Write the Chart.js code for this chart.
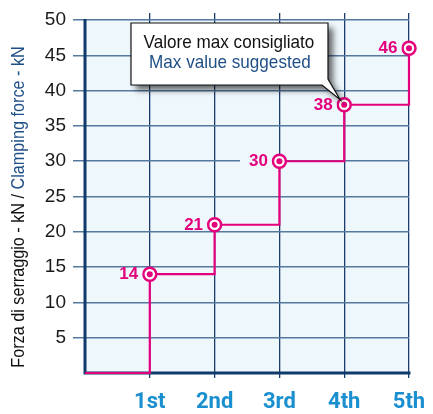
<!DOCTYPE html>
<html>
<head>
<meta charset="utf-8">
<script src="https://cdn.jsdelivr.net/npm/chart.js@4.4.1/dist/chart.umd.min.js"></script>
<style>
  html, body { margin: 0; padding: 0; background: #ffffff; }
  #wrap { width: 433px; height: 414px; }
</style>
</head>
<body>
<div id="wrap"><canvas id="forceChart" width="433" height="414"></canvas></div>
<script>
// Clamping force reached at each step
const positions = ['1st', '2nd', '3rd', '4th', '5th'];
const forceValues = [14, 21, 30, 38, 46];
const yTickValues = [5, 10, 15, 20, 25, 30, 35, 40, 45, 50];
const xTickValues = [1, 2, 3, 4, 5];

const PINK = '#e4007c';
const NAVY = '#0f3a6a';
const PLOT_BG = '#eef7fc';
const TEXT_BLUE = '#1f4f86';

// step line starts from the origin
const stepPoints = [{ x: 0, y: 0 }].concat(
    positions.map((p, i) => ({ x: i + 1, y: forceValues[i] }))
);
const dotPoints = positions.map((p, i) => ({ x: i + 1, y: forceValues[i] }));

const plotDecor = {
    id: 'plotDecor',
    beforeDraw(chart) {
        const { ctx, chartArea, scales } = chart;
        const top = scales.y.getPixelForValue(50);
        ctx.save();
        ctx.fillStyle = PLOT_BG;
        ctx.fillRect(chartArea.left, top, chartArea.right - chartArea.left, chartArea.bottom - top);
        ctx.restore();
    },
    beforeDatasetsDraw(chart) {
        const { ctx, chartArea, scales } = chart;
        const top = scales.y.getPixelForValue(50) - 1;
        ctx.save();
        ctx.strokeStyle = NAVY;
        ctx.lineWidth = 3;
        ctx.beginPath();
        ctx.moveTo(chartArea.left, top);
        ctx.lineTo(chartArea.left, chartArea.bottom + 1.5);
        ctx.moveTo(chartArea.left - 1.5, chartArea.bottom);
        ctx.lineTo(chartArea.right + 1.5, chartArea.bottom);
        ctx.stroke();
        ctx.restore();
    },
    afterDatasetsDraw(chart) {
        const { ctx, scales } = chart;
        const xs = scales.x, ys = scales.y;

        // value labels next to each point
        ctx.save();
        ctx.font = 'bold 17px "Liberation Sans Narrow", "Arial Narrow", Arial, sans-serif';
        ctx.textAlign = 'center';
        ctx.textBaseline = 'middle';
        dotPoints.forEach(pt => {
            const px = xs.getPixelForValue(pt.x) - 21;
            const py = ys.getPixelForValue(pt.y);
            const txt = String(pt.y);
            const w = ctx.measureText(txt).width;
            ctx.fillStyle = PLOT_BG;
            ctx.fillRect(px - w / 2 - 9, py - 5, w + 13, 10);
            ctx.fillStyle = PINK;
            ctx.fillText(txt, px, py + 0.5);
        });
        ctx.restore();

        // callout pointing at the 4th step
        const tipX = xs.getPixelForValue(4) - 4;
        const tipY = ys.getPixelForValue(38) - 5;
        const bx = 131, by = 23, bw = 197, bh = 62;
        ctx.save();
        ctx.beginPath();
        ctx.moveTo(bx, by);
        ctx.lineTo(bx + bw, by);
        ctx.lineTo(bx + bw, by + bh - 6);
        ctx.lineTo(tipX, tipY);
        ctx.lineTo(bx + bw - 6, by + bh);
        ctx.lineTo(bx, by + bh);
        ctx.closePath();
        ctx.shadowColor = 'rgba(0,0,0,0.6)';
        ctx.shadowBlur = 6;
        ctx.shadowOffsetX = 5;
        ctx.shadowOffsetY = 5;
        ctx.fillStyle = '#ffffff';
        ctx.fill();
        ctx.shadowColor = 'transparent';
        ctx.strokeStyle = '#111111';
        ctx.lineWidth = 1.2;
        ctx.stroke();

        ctx.textAlign = 'center';
        ctx.textBaseline = 'alphabetic';
        ctx.font = '19px "Liberation Sans", Arial, sans-serif';
        ctx.save();
        ctx.translate(bx + bw / 2 - 0.5, by + 25);
        ctx.scale(0.9, 1);
        ctx.fillStyle = '#111111';
        ctx.fillText('Valore max consigliato', 0, 0);
        ctx.fillStyle = TEXT_BLUE;
        ctx.fillText('Max value suggested', 1, 20);
        ctx.restore();
        ctx.restore();
    },
    afterDraw(chart) {
        // two-colour axis title, rotated
        const { ctx } = chart;
        const part1 = 'Forza di serraggio - kN / ';
        const part2 = 'Clamping force - kN';
        ctx.save();
        ctx.translate(24, 207);
        ctx.rotate(-Math.PI / 2);
        ctx.scale(0.9, 1);
        ctx.font = '18px "Liberation Sans", Arial, sans-serif';
        ctx.textBaseline = 'alphabetic';
        ctx.textAlign = 'left';
        const w1 = ctx.measureText(part1).width;
        const w2 = ctx.measureText(part2).width;
        const start = -(w1 + w2) / 2;
        ctx.fillStyle = '#111111';
        ctx.fillText(part1, start, 0);
        ctx.fillStyle = TEXT_BLUE;
        ctx.fillText(part2, start + w1, 0);
        ctx.restore();
    }
};

new Chart(document.getElementById('forceChart'), {
    type: 'line',
    data: {
        datasets: [
            {
                data: dotPoints,
                showLine: false,
                pointRadius: 3,
                pointBackgroundColor: PINK,
                pointBorderWidth: 0,
                clip: false,
                order: 0
            },
            {
                data: stepPoints,
                stepped: true,
                borderColor: PINK,
                borderWidth: 2.2,
                fill: false,
                pointRadius: stepPoints.map((p, i) => i === 0 ? 0 : 6.5),
                pointBackgroundColor: '#ffffff',
                pointBorderColor: PINK,
                pointBorderWidth: 2.5,
                clip: false,
                order: 1
            }
        ]
    },
    options: {
        responsive: false,
        animation: false,
        devicePixelRatio: 1,
        layout: { padding: { top: 13, right: 24, bottom: 0, left: 0 } },
        plugins: {
            legend: { display: false },
            tooltip: { enabled: false }
        },
        scales: {
            x: {
                type: 'linear',
                min: 0,
                max: 5,
                afterBuildTicks: scale => {
                    scale.ticks = xTickValues.map(v => ({ value: v }));
                },
                afterFit: scale => {
                    scale.height = 41;
                    scale.paddingLeft = 0;
                    scale.paddingRight = 0;
                },
                border: { display: false },
                grid: {
                    color: '#1c3d6b',
                    lineWidth: 1.3,
                    tickLength: 5
                },
                ticks: {
                    autoSkip: false,
                    maxRotation: 0,
                    padding: 11,
                    color: '#1a8fcf',
                    font: { family: 'Roboto, "Open Sans", sans-serif', size: 22, weight: 'bold' },
                    callback: value => positions[value - 1] || ''
                }
            },
            y: {
                min: 0,
                max: 51,
                afterBuildTicks: scale => {
                    scale.ticks = yTickValues.map(v => ({ value: v }));
                },
                afterFit: scale => {
                    scale.width = 85;
                    scale.paddingTop = 0;
                    scale.paddingBottom = 0;
                },
                border: { display: false },
                grid: {
                    color: '#55799f',
                    lineWidth: 1.5,
                    tickLength: 12
                },
                ticks: {
                    padding: 7,
                    color: '#1a1a1a',
                    font: { family: '"Liberation Sans", Arial, sans-serif', size: 19 }
                }
            }
        }
    },
    plugins: [plotDecor]
});
</script>
</body>
</html>
